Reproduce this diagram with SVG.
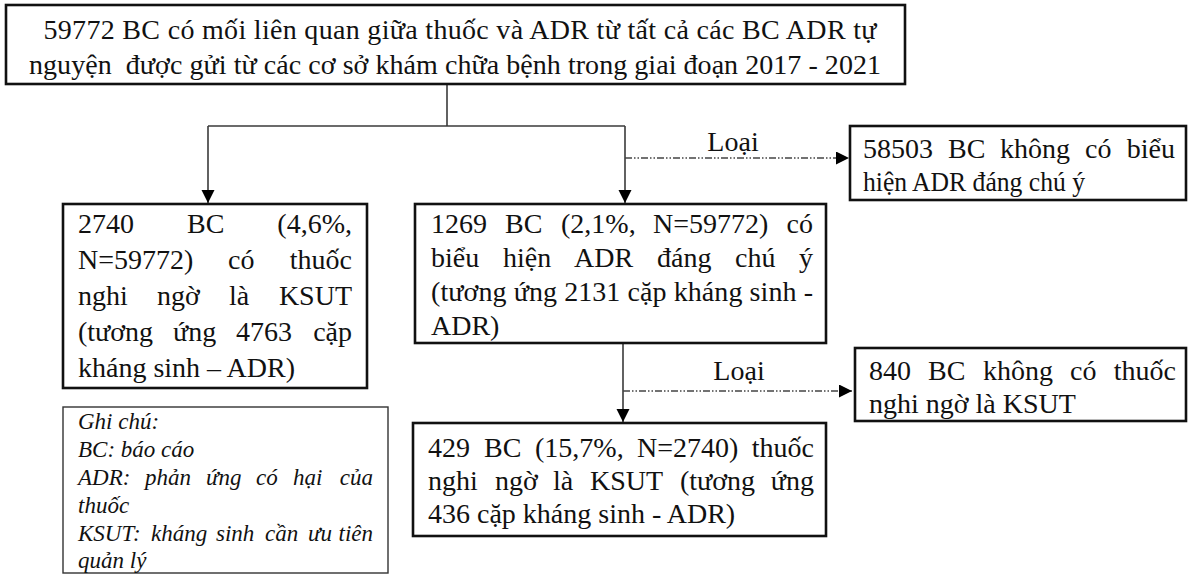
<svg xmlns="http://www.w3.org/2000/svg" width="1189" height="576" viewBox="0 0 1189 576">
<style>
.bg{fill:#fff}
.box{fill:#fff;stroke:#111;stroke-width:2.6}
.note{fill:#fff;stroke:#333;stroke-width:1.4}
.t{font-family:"Liberation Serif","Times New Roman",serif;font-size:28px;fill:#111}
.e{text-anchor:end}
.c{text-anchor:middle}
.n{font-family:"Liberation Serif","Times New Roman",serif;font-size:23px;font-style:italic;fill:#111}
.ln{fill:none;stroke:#3a3a3a;stroke-width:1.6}
.dl{fill:none;stroke:#444;stroke-width:1.3;stroke-dasharray:7 2 1.5 2 1.5 2}
</style>
<defs>
<marker id="ah" markerUnits="userSpaceOnUse" markerWidth="14" markerHeight="14" refX="13" refY="6.5" orient="auto">
<path d="M0,0 L13,6.5 L0,13 z" fill="#000"/>
</marker>
</defs>
<rect class="bg" x="0" y="0" width="1189" height="576"/>

<g id="connectors">
<polyline class="ln" points="447,84 447,126"/>
<polyline class="ln" points="208,126 625,126"/>
<line class="ln" x1="208" y1="126" x2="208" y2="203" marker-end="url(#ah)"/>
<line class="ln" x1="625" y1="126" x2="625" y2="203" marker-end="url(#ah)"/>
<line class="dl" x1="625" y1="158" x2="849" y2="158" marker-end="url(#ah)"/>
<text class="t c" x="733" y="151">Loại</text>
<line class="ln" x1="623" y1="343" x2="623" y2="422" marker-end="url(#ah)"/>
<line class="dl" x1="623" y1="391" x2="852" y2="391" marker-end="url(#ah)"/>
<text class="t c" x="739" y="380">Loại</text>
</g>

<g id="n-top">
<rect class="box" x="6" y="5" width="899" height="79"/>
<text class="t c" x="460" y="39" textLength="833">59772 BC có mối liên quan giữa thuốc và ADR từ tất cả các BC ADR tự</text>
<text class="t c" x="455" y="74" textLength="852">nguyện&#160; được gửi từ các cơ sở khám chữa bệnh trong giai đoạn 2017 - 2021</text>
</g>

<g id="n-left">
<rect class="box" x="63" y="204" width="304" height="184"/>
<text class="t" y="233"><tspan x="78">2740</tspan><tspan x="187">BC</tspan></text>
<text class="t e" x="352" y="233">(4,6%,</text>
<text class="t" y="269"><tspan x="78">N=59772)</tspan><tspan x="228">có</tspan></text>
<text class="t e" x="352" y="269">thuốc</text>
<text class="t" y="305"><tspan x="78">nghi</tspan><tspan x="157">ngờ</tspan><tspan x="229">là</tspan></text>
<text class="t e" x="352" y="305">KSUT</text>
<text class="t" y="341"><tspan x="78">(tương</tspan><tspan x="173">ứng</tspan><tspan x="236">4763</tspan></text>
<text class="t e" x="352" y="341">cặp</text>
<text class="t" x="78" y="377">kháng sinh – ADR)</text>
</g>

<g id="n-mid">
<rect class="box" x="415" y="204" width="411" height="139"/>
<text class="t" y="233"><tspan x="431">1269</tspan><tspan x="505">BC</tspan><tspan x="561">(2,1%,</tspan><tspan x="653">N=59772)</tspan></text>
<text class="t e" x="813" y="233">có</text>
<text class="t" y="267"><tspan x="431">biểu</tspan><tspan x="503">hiện</tspan><tspan x="574">ADR</tspan><tspan x="657">đáng</tspan><tspan x="735">chú</tspan></text>
<text class="t e" x="813" y="267">ý</text>
<text class="t" x="431" y="301" textLength="382">(tương ứng 2131 cặp kháng sinh -</text>
<text class="t" x="431" y="335">ADR)</text>
</g>

<g id="n-excl1">
<rect class="box" x="850" y="126" width="336" height="74"/>
<text class="t" y="158"><tspan x="863">58503</tspan><tspan x="948">BC</tspan><tspan x="1000">không</tspan><tspan x="1085">có</tspan></text>
<text class="t e" x="1175" y="158">biểu</text>
<text class="t" x="863" y="191" textLength="222" lengthAdjust="spacingAndGlyphs">hiện ADR đáng chú ý</text>
</g>

<g id="n-final">
<rect class="box" x="413" y="423" width="413" height="113"/>
<text class="t" y="457"><tspan x="428">429</tspan><tspan x="484">BC</tspan><tspan x="535">(15,7%,</tspan><tspan x="637">N=2740)</tspan></text>
<text class="t e" x="814" y="457">thuốc</text>
<text class="t" y="490"><tspan x="428">nghi</tspan><tspan x="495">ngờ</tspan><tspan x="553">là</tspan><tspan x="590">KSUT</tspan><tspan x="680">(tương</tspan></text>
<text class="t e" x="814" y="490">ứng</text>
<text class="t" x="428" y="523">436 cặp kháng sinh - ADR)</text>
</g>

<g id="n-excl2">
<rect class="box" x="855" y="348" width="331" height="73"/>
<text class="t" y="380"><tspan x="869">840</tspan><tspan x="928">BC</tspan><tspan x="983">không</tspan><tspan x="1070">có</tspan></text>
<text class="t e" x="1176" y="380">thuốc</text>
<text class="t" x="869" y="413">nghi ngờ là KSUT</text>
</g>

<g id="n-notes">
<rect class="note" x="63" y="407" width="325" height="166"/>
<text class="n" x="78" y="429">Ghi chú:</text>
<text class="n" x="78" y="457">BC: báo cáo</text>
<text class="n" y="485"><tspan x="78">ADR:</tspan><tspan x="145">phản</tspan><tspan x="206">ứng</tspan><tspan x="256">có</tspan><tspan x="293">hại</tspan></text>
<text class="n e" x="373" y="485">của</text>
<text class="n" x="78" y="513">thuốc</text>
<text class="n" y="541"><tspan x="78">KSUT:</tspan><tspan x="151">kháng</tspan><tspan x="216">sinh</tspan><tspan x="265">cần</tspan><tspan x="308">ưu</tspan></text>
<text class="n e" x="373" y="541">tiên</text>
<text class="n" x="78" y="568">quản lý</text>
</g>
</svg>
